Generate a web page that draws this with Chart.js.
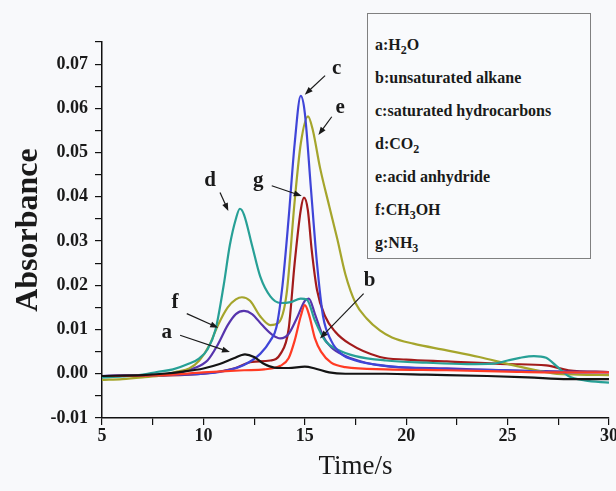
<!DOCTYPE html>
<html>
<head>
<meta charset="utf-8">
<script src="https://cdn.jsdelivr.net/npm/chart.js@4.4.1/dist/chart.umd.min.js"></script>
<style>
  body { margin: 0; background: #f8f9fb; }
  #wrap { position: relative; width: 616px; height: 491px; background: #f8f9fb; }
  #legend {
    position: absolute; left: 367px; top: 13px; width: 215px; height: 230px;
    border: 1.5px solid #808080; background: #f9fafc;
    padding: 14px 0 0 7px;
    font-family: "Liberation Serif", serif; font-weight: bold; font-size: 16px; color: #1a1a1a;
  }
  #legend div { height: 33px; line-height: 33px; white-space: nowrap; }
  #legend sub { font-size: 12px; vertical-align: -4px; line-height: 0; }
</style>
</head>
<body>
<div id="wrap">
  <canvas id="absChart" width="616" height="491"></canvas>
  <div id="legend">
    <div>a:H<sub>2</sub>O</div>
    <div>b:unsaturated alkane</div>
    <div>c:saturated hydrocarbons</div>
    <div>d:CO<sub>2</sub></div>
    <div>e:acid anhydride</div>
    <div>f:CH<sub>3</sub>OH</div>
    <div>g:NH<sub>3</sub></div>
  </div>
</div>
<script>
// curves: time (s) and absorbance
const aTime = [5, 7, 8, 9, 10, 10.8, 11.5, 12.05, 12.5, 13, 13.5, 14.2, 15, 15.5, 16.2, 17, 19, 21, 24, 26, 28, 30];
const aAbs  = [-0.0005, -0.0003, 0, 0.0005, 0.0012, 0.0022, 0.0035, 0.0044, 0.0038, 0.0022, 0.0014, 0.0013, 0.0016, 0.0012, 0.0003, 0, 0, -0.0002, -0.0005, -0.0008, -0.0012, -0.0012];

const bTime = [5, 8, 10, 12, 13, 13.8, 14.2, 14.5, 14.8, 15, 15.2, 15.5, 15.8, 16.3, 17, 19, 22, 25, 28, 30];
const bAbs  = [-0.0005, -0.0003, 0.0003, 0.0008, 0.001, 0.0018, 0.0035, 0.0075, 0.013, 0.0155, 0.0135, 0.008, 0.005, 0.0025, 0.0015, 0.001, 0.0008, 0.0005, 0.0003, 0.0003];

const cTime = [5, 8, 10, 11, 12, 12.8, 13.3, 13.6, 13.9, 14.2, 14.5, 14.8, 15, 15.3, 15.6, 15.9, 16.3, 16.8, 17.5, 19, 22, 25, 28, 30];
const cAbs  = [-0.0005, -0.0003, 0, 0.0006, 0.002, 0.0045, 0.0075, 0.0105, 0.02, 0.035, 0.052, 0.0628, 0.059, 0.042, 0.025, 0.013, 0.0075, 0.0045, 0.003, 0.0018, 0.001, 0.0008, 0.0003, 0.0003];

const dTime = [5, 6, 7, 7.7, 8.5, 9.3, 9.8, 10.2, 10.6, 11, 11.3, 11.6, 11.8, 12, 12.4, 12.8, 13.3, 13.8, 14.3, 14.8, 15.1, 15.5, 16, 16.6, 17.5, 19, 21, 23, 24.3, 25, 25.6, 26.3, 26.9, 27.4, 28, 28.8, 30];
const dAbs  = [-0.0008, -0.0006, -0.0002, 0.0004, 0.001, 0.0023, 0.0035, 0.0055, 0.01, 0.02, 0.029, 0.035, 0.0373, 0.036, 0.029, 0.022, 0.0175, 0.016, 0.0162, 0.017, 0.0168, 0.012, 0.0075, 0.0055, 0.004, 0.003, 0.0025, 0.0022, 0.0023, 0.003, 0.0036, 0.004, 0.0036, 0.0018, -0.0005, -0.0015, -0.002];

const eTime = [5, 6, 7, 8, 8.7, 9.3, 9.8, 10.3, 10.7, 11.2, 11.6, 11.9, 12.3, 12.8, 13.3, 13.7, 14.1, 14.5, 14.8, 15.16, 15.4, 15.75, 16.2, 16.6, 17, 17.5, 18.05, 18.7, 19.3, 20.35, 22, 23.6, 25.3, 27.25, 28.5, 30];
const eAbs  = [-0.0014, -0.0012, -0.0008, -0.0003, 0.0005, 0.0012, 0.003, 0.0065, 0.0108, 0.015, 0.0168, 0.0173, 0.0165, 0.013, 0.011, 0.0115, 0.018, 0.039, 0.052, 0.0582, 0.055, 0.0466, 0.038, 0.0305, 0.0225, 0.016, 0.0125, 0.0098, 0.0082, 0.0068, 0.0053, 0.0038, 0.0019, 0.0001, -0.0002, -0.0003];

const fTime = [5, 7, 8.5, 9.5, 10.2, 10.7, 11.2, 11.6, 12, 12.4, 12.9, 13.4, 13.8, 14.2, 14.6, 15, 15.2, 15.5, 15.9, 16.3, 17, 18, 19.2, 22, 25, 28, 30];
const fAbs  = [-0.0005, -0.0003, 0, 0.0012, 0.003, 0.0065, 0.011, 0.0135, 0.0142, 0.0135, 0.011, 0.0088, 0.008, 0.009, 0.0125, 0.0165, 0.017, 0.0135, 0.0085, 0.006, 0.004, 0.0025, 0.0016, 0.0012, 0.0008, 0.0005, 0.0004];

const gTime = [5, 8, 10, 11.5, 12.4, 13.3, 13.8, 14.2, 14.5, 14.8, 14.96, 15.15, 15.34, 15.6, 16, 16.5, 17.2, 18.7, 20, 22, 25, 26.9, 28, 30];
const gAbs  = [-0.0005, -0.0004, 0, 0.0012, 0.0027, 0.003, 0.0045, 0.01, 0.025, 0.037, 0.0398, 0.037, 0.028, 0.019, 0.013, 0.0095, 0.0068, 0.0038, 0.0032, 0.0028, 0.0022, 0.0019, 0.0008, 0.0004];

const seriesNames = ['a', 'b', 'c', 'd', 'e', 'f', 'g'];
const seriesColors = ['#141414', '#ff3b24', '#3f45d8', '#27a096', '#a5a52c', '#5634ad', '#a21b1b'];

// letter labels with arrows, in data units: label spot, arrow tail, arrow head
const noteLetters = ['a', 'b', 'c', 'd', 'e', 'f', 'g'];
const noteX     = [8.19, 18.2, 16.57, 10.33, 16.74, 8.6, 12.71];
const noteY     = [0.0094, 0.0211, 0.069, 0.0436, 0.0601, 0.0162, 0.0436];
const tailX     = [8.85, 17.9, 16.0, 10.82, 16.33, 9.18, 13.37];
const tailY     = [0.0087, 0.0181, 0.0674, 0.041, 0.0581, 0.0136, 0.0425];
const headX     = [11.31, 15.75, 15.0, 11.23, 15.67, 10.73, 14.85];
const headY     = [0.0049, 0.008, 0.0631, 0.0368, 0.054, 0.0104, 0.0402];

const times = [aTime, bTime, cTime, dTime, eTime, fTime, gTime];
const values = [aAbs, bAbs, cAbs, dAbs, eAbs, fAbs, gAbs];

const datasets = seriesNames.map((name, i) => ({
  label: name,
  data: times[i].map((t, k) => ({ x: t, y: values[i][k] })),
  borderColor: seriesColors[i],
  borderWidth: 2.2,
  pointRadius: 0,
  fill: false,
  cubicInterpolationMode: 'monotone'
}));

const arrowNotes = {
  id: 'arrowNotes',
  afterDatasetsDraw(chart) {
    const ctx = chart.ctx;
    const xs = chart.scales.x, ys = chart.scales.y;
    ctx.save();
    noteLetters.forEach((letter, i) => {
      const x1 = xs.getPixelForValue(tailX[i]), y1 = ys.getPixelForValue(tailY[i]);
      const x2 = xs.getPixelForValue(headX[i]), y2 = ys.getPixelForValue(headY[i]);
      const ang = Math.atan2(y2 - y1, x2 - x1);
      ctx.strokeStyle = '#1a1a1a';
      ctx.fillStyle = '#1a1a1a';
      ctx.lineWidth = 1.2;
      ctx.beginPath();
      ctx.moveTo(x1, y1);
      ctx.lineTo(x2 - 6 * Math.cos(ang), y2 - 6 * Math.sin(ang));
      ctx.stroke();
      ctx.beginPath();
      ctx.moveTo(x2, y2);
      ctx.lineTo(x2 - 8 * Math.cos(ang) + 3 * Math.sin(ang), y2 - 8 * Math.sin(ang) - 3 * Math.cos(ang));
      ctx.lineTo(x2 - 8 * Math.cos(ang) - 3 * Math.sin(ang), y2 - 8 * Math.sin(ang) + 3 * Math.cos(ang));
      ctx.closePath();
      ctx.fill();
      ctx.font = 'bold 21px "Liberation Serif"';
      ctx.textAlign = 'center';
      ctx.textBaseline = 'middle';
      ctx.fillText(letter, xs.getPixelForValue(noteX[i]), ys.getPixelForValue(noteY[i]));
    });
    ctx.restore();
  }
};

const tickFont = { family: 'Liberation Serif', weight: 'bold', size: 18 };

new Chart(document.getElementById('absChart').getContext('2d'), {
  type: 'line',
  data: { datasets: datasets },
  plugins: [arrowNotes],
  options: {
    responsive: false,
    animation: false,
    devicePixelRatio: 1,
    layout: { padding: { top: 42, right: 7, left: 0, bottom: 0 } },
    plugins: { legend: { display: false }, tooltip: { enabled: false } },
    scales: {
      x: {
        type: 'linear', min: 5, max: 30,
        ticks: {
          stepSize: 2.5, autoSkip: false, maxRotation: 0, padding: 1,
          color: '#1a1a1a', font: tickFont,
          callback: v => (v % 5 === 0 ? String(v) : '')
        },
        grid: { drawOnChartArea: false, drawTicks: true, tickLength: 7, color: '#111', lineWidth: 1.2 },
        border: { color: '#111', width: 1.5 },
        title: {
          display: true, text: 'Time/s', color: '#1a1a1a',
          font: { family: 'Liberation Serif', size: 27 }, padding: { top: 4, bottom: 8 }
        },
        afterFit(s) { s.height = 73; s.paddingLeft = 0; s.paddingRight = 0; }
      },
      y: {
        min: -0.01, max: 0.075,
        ticks: {
          stepSize: 0.005, autoSkip: false, padding: 7,
          color: '#1a1a1a', font: tickFont,
          callback: v => {
            const k = Math.round(v * 200);
            return k % 2 === 0 ? (k / 200).toFixed(2).replace('-0.00', '0.00') : '';
          }
        },
        grid: { drawOnChartArea: false, drawTicks: true, tickLength: 7, color: '#111', lineWidth: 1.2 },
        border: { color: '#111', width: 1.5 },
        title: {
          display: true, text: 'Absorbance', color: '#1a1a1a',
          font: { family: 'Liberation Serif', size: 32, weight: 'bold' }, padding: { top: 10, bottom: 10 }
        },
        afterFit(s) { s.width = 102; s.paddingTop = 0; s.paddingBottom = 0; }
      }
    }
  }
});
</script>
</body>
</html>
